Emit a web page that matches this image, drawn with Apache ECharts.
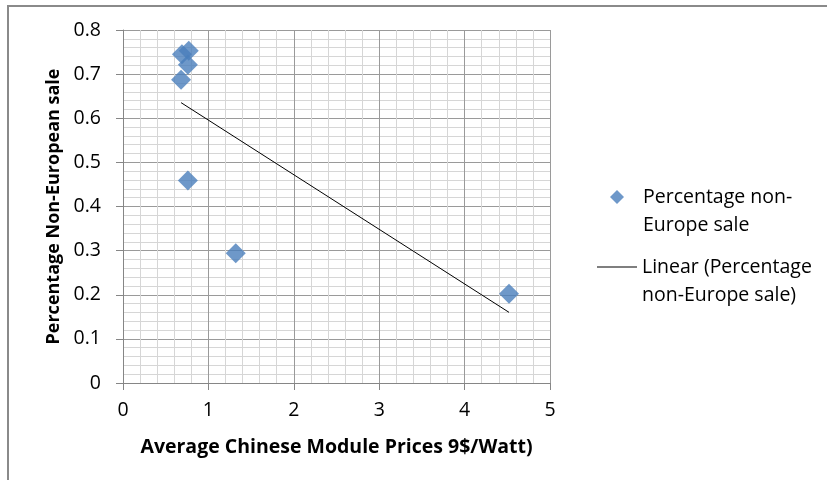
<!DOCTYPE html>
<html>
<head>
<meta charset="utf-8">
<script src="https://cdn.jsdelivr.net/npm/echarts@6/dist/echarts.min.js"></script>
<style>html,body{margin:0;padding:0;background:#fff}#c{width:827px;height:480px}</style>
</head>
<body>
<div id="c"></div>
<script>
// Data
const priceX = [0.69, 0.77, 0.76, 0.68, 0.76, 1.32, 4.52];
const shareY = [0.745, 0.753, 0.721, 0.687, 0.459, 0.294, 0.202];
const seriesName = 'Percentage non-Europe sale';
const trendName = 'Linear (Percentage non-Europe sale)';
const xTitle = 'Average Chinese Module Prices 9$/Watt)';
const yTitle = 'Percentage Non-European sale';

// Linear least-squares trendline (as Excel does), spanning the data's x range
const n = priceX.length;
const mx = priceX.reduce((a, b) => a + b, 0) / n;
const my = shareY.reduce((a, b) => a + b, 0) / n;
let sxy = 0, sxx = 0;
for (let i = 0; i < n; i++) { sxy += (priceX[i] - mx) * (shareY[i] - my); sxx += (priceX[i] - mx) ** 2; }
const slope = sxy / sxx, icpt = my - slope * mx;
const xmin = Math.min(...priceX), xmax = Math.max(...priceX);
const trend = [[xmin, icpt + slope * xmin], [xmax, icpt + slope * xmax]];

const FONT = 'Open Sans';
const HS = 19.5; // horizontal text size
const chart = echarts.init(document.getElementById('c'));
chart.setOption({
  animation: false,
  backgroundColor: '#fff',
  graphic: [{
    type: 'rect', shape: { x: 8, y: 6, width: 900, height: 600 },
    style: { fill: 'none', stroke: '#8a8a8a', lineWidth: 2 }, z: 0, silent: true
  }],
  grid: { left: 123, top: 30, width: 427, height: 353, containLabel: false },
  xAxis: {
    type: 'value', min: 0, max: 5, interval: 1,
    name: xTitle, nameLocation: 'middle', nameGap: 54,
    nameTextStyle: { fontFamily: FONT, fontSize: HS, fontWeight: 'bold', color: '#000' },
    axisLine: { show: true, onZero: false, lineStyle: { color: '#868686', width: 1 } },
    axisTick: { show: true, length: 7, lineStyle: { color: '#868686' } },
    axisLabel: { margin: 17, fontFamily: FONT, fontSize: HS, color: '#000' },
    splitLine: { show: true, lineStyle: { color: '#9a9a9a', width: 1 } },
    minorTick: { show: false, splitNumber: 5 },
    minorSplitLine: { show: true, lineStyle: { color: '#d6d6d6', width: 1 } }
  },
  yAxis: {
    type: 'value', min: 0, max: 0.8, interval: 0.1,
    name: yTitle, nameLocation: 'middle', nameGap: 57,
    nameTextStyle: { fontFamily: FONT, fontSize: 18, fontWeight: 'bold', color: '#000' },
    axisLine: { show: true, onZero: false, lineStyle: { color: '#868686', width: 1 } },
    axisTick: { show: true, length: 7, lineStyle: { color: '#868686' } },
    axisLabel: { margin: 22, fontFamily: FONT, fontSize: HS, color: '#000',
      formatter: v => (Math.round(v * 10) / 10).toString() },
    splitLine: { show: true, lineStyle: { color: '#9a9a9a', width: 1 } },
    minorTick: { show: false, splitNumber: 5 },
    minorSplitLine: { show: true, lineStyle: { color: '#d6d6d6', width: 1 } }
  },
  legend: [{
    data: [seriesName], orient: 'vertical', left: 610, top: 155, padding: 0,
    icon: 'diamond', itemWidth: 14, itemHeight: 14,
    formatter: () => ' \nPercentage non-\nEurope sale',
    textStyle: { fontFamily: FONT, fontSize: HS, color: '#000', lineHeight: 28, padding: [0, 0, 0, 14] }
  }, {
    data: [trendName], orient: 'vertical', left: 597, top: 225, padding: 0,
    icon: 'rect', itemWidth: 40, itemHeight: 1,
    itemStyle: { color: '#000' },
    formatter: () => ' \nLinear (Percentage\nnon-Europe sale)',
    textStyle: { fontFamily: FONT, fontSize: HS, color: '#000', lineHeight: 28, padding: [0, 0, 0, 0] }
  }],
  series: [{
    name: seriesName, type: 'scatter', symbol: 'diamond', symbolSize: 20,
    itemStyle: { color: '#4a7ebb' },
    data: priceX.map((x, i) => [x, shareY[i]]), z: 3
  }, {
    name: trendName, type: 'line', symbol: 'none', showSymbol: false,
    lineStyle: { color: '#000', width: 1 }, itemStyle: { color: '#000' },
    data: trend, z: 4
  }]
});
</script>
</body>
</html>
